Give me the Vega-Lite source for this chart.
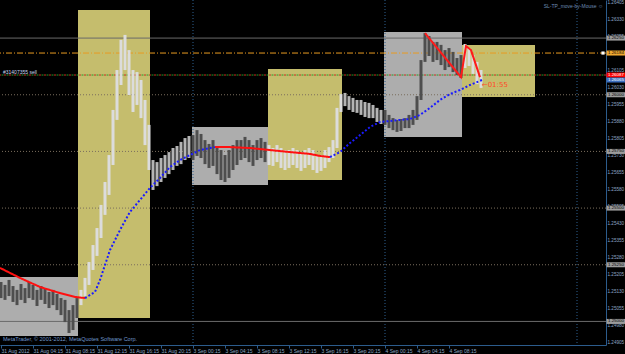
{
"$schema": "https://vega.github.io/schema/vega-lite/v6.json",
"width": 606, "height": 345,
"autosize": {"type": "none"},
"padding": {"left": 0, "top": 0, "right": 19, "bottom": 9},
"background": "#000000",
"config": {"view": {"stroke": null}, "font": "Liberation Sans", "axis": {"labelOverlap": false, "labelBound": false, "labelFlush": false, "labelSeparation": 0}},
"resolve": {"scale": {"color": "independent", "strokeDash": "independent"}},
"datasets": {
"bars": [
{"t":0,"hi":1.25174,"lo":1.25103,"zone":"g"},{"t":0.5,"hi":1.25161,"lo":1.25095,"zone":"g"},{"t":1,"hi":1.25183,"lo":1.25112,"zone":"g"},{"t":1.5,"hi":1.25156,"lo":1.25086,"zone":"g"},{"t":2,"hi":1.25139,"lo":1.25072,"zone":"g"},{"t":2.5,"hi":1.25165,"lo":1.25095,"zone":"g"},{"t":3,"hi":1.25147,"lo":1.25081,"zone":"g"},{"t":3.5,"hi":1.25174,"lo":1.25103,"zone":"g"},{"t":4,"hi":1.25161,"lo":1.25095,"zone":"g"},{"t":4.5,"hi":1.25139,"lo":1.25068,"zone":"g"},{"t":5,"hi":1.25156,"lo":1.25095,"zone":"g"},{"t":5.5,"hi":1.25147,"lo":1.25077,"zone":"g"},{"t":6,"hi":1.25130,"lo":1.25059,"zone":"g"},{"t":6.5,"hi":1.25139,"lo":1.25072,"zone":"g"},{"t":7,"hi":1.25121,"lo":1.25050,"zone":"g"},{"t":7.5,"hi":1.25103,"lo":1.25028,"zone":"g"},{"t":8,"hi":1.25095,"lo":1.24997,"zone":"g"},{"t":8.5,"hi":1.25050,"lo":1.24949,"zone":"g"},{"t":9,"hi":1.25072,"lo":1.24962,"zone":"g"},{"t":9.5,"hi":1.25103,"lo":1.25015,"zone":"g"},
{"t":10,"hi":1.25139,"lo":1.25072,"zone":"y"},{"t":10.5,"hi":1.25192,"lo":1.25112,"zone":"y"},{"t":11,"hi":1.25262,"lo":1.25161,"zone":"y"},{"t":11.5,"hi":1.25337,"lo":1.25227,"zone":"y"},{"t":12,"hi":1.25412,"lo":1.25289,"zone":"y"},{"t":12.5,"hi":1.25514,"lo":1.25368,"zone":"y"},{"t":13,"hi":1.25615,"lo":1.25470,"zone":"y"},{"t":13.5,"hi":1.25734,"lo":1.25558,"zone":"y"},{"t":14,"hi":1.25933,"lo":1.25690,"zone":"y"},{"t":14.5,"hi":1.26109,"lo":1.25889,"zone":"y"},{"t":15,"hi":1.26242,"lo":1.26043,"zone":"y"},{"t":15.5,"hi":1.26264,"lo":1.26109,"zone":"y"},{"t":16,"hi":1.26197,"lo":1.25999,"zone":"y"},{"t":16.5,"hi":1.26109,"lo":1.25924,"zone":"y"},{"t":17,"hi":1.26100,"lo":1.25955,"zone":"y"},{"t":17.5,"hi":1.26065,"lo":1.25897,"zone":"y"},{"t":18,"hi":1.25977,"lo":1.25778,"zone":"y"},{"t":18.5,"hi":1.25867,"lo":1.25668,"zone":"y"},
{"t":19,"hi":1.25712,"lo":1.25580,"zone":"n"},{"t":19.5,"hi":1.25703,"lo":1.25597,"zone":"n"},{"t":20,"hi":1.25721,"lo":1.25615,"zone":"n"},{"t":20.5,"hi":1.25734,"lo":1.25633,"zone":"n"},{"t":21,"hi":1.25747,"lo":1.25650,"zone":"n"},{"t":21.5,"hi":1.25765,"lo":1.25668,"zone":"n"},{"t":22,"hi":1.25774,"lo":1.25686,"zone":"n"},{"t":22.5,"hi":1.25792,"lo":1.25694,"zone":"n"},{"t":23,"hi":1.25809,"lo":1.25712,"zone":"n"},{"t":23.5,"hi":1.25818,"lo":1.25721,"zone":"n"},
{"t":24,"hi":1.25822,"lo":1.25712,"zone":"g"},{"t":24.5,"hi":1.25844,"lo":1.25730,"zone":"g"},{"t":25,"hi":1.25827,"lo":1.25721,"zone":"g"},{"t":25.5,"hi":1.25800,"lo":1.25694,"zone":"g"},{"t":26,"hi":1.25783,"lo":1.25677,"zone":"g"},{"t":26.5,"hi":1.25800,"lo":1.25686,"zone":"g"},{"t":27,"hi":1.25774,"lo":1.25650,"zone":"g"},{"t":27.5,"hi":1.25756,"lo":1.25624,"zone":"g"},{"t":28,"hi":1.25734,"lo":1.25615,"zone":"g"},{"t":28.5,"hi":1.25756,"lo":1.25633,"zone":"g"},{"t":29,"hi":1.25778,"lo":1.25668,"zone":"g"},{"t":29.5,"hi":1.25800,"lo":1.25690,"zone":"g"},{"t":30,"hi":1.25800,"lo":1.25712,"zone":"g"},{"t":30.5,"hi":1.25814,"lo":1.25721,"zone":"g"},{"t":31,"hi":1.25800,"lo":1.25703,"zone":"g"},{"t":31.5,"hi":1.25778,"lo":1.25686,"zone":"g"},{"t":32,"hi":1.25800,"lo":1.25712,"zone":"g"},{"t":32.5,"hi":1.25809,"lo":1.25721,"zone":"g"},{"t":33,"hi":1.25792,"lo":1.25703,"zone":"g"},
{"t":33.5,"hi":1.25778,"lo":1.25690,"zone":"y"},{"t":34,"hi":1.25765,"lo":1.25686,"zone":"y"},{"t":34.5,"hi":1.25778,"lo":1.25703,"zone":"y"},{"t":35,"hi":1.25765,"lo":1.25677,"zone":"y"},{"t":35.5,"hi":1.25756,"lo":1.25668,"zone":"y"},{"t":36,"hi":1.25756,"lo":1.25677,"zone":"y"},{"t":36.5,"hi":1.25765,"lo":1.25690,"zone":"y"},{"t":37,"hi":1.25756,"lo":1.25677,"zone":"y"},{"t":37.5,"hi":1.25747,"lo":1.25664,"zone":"y"},{"t":38,"hi":1.25756,"lo":1.25677,"zone":"y"},{"t":38.5,"hi":1.25765,"lo":1.25690,"zone":"y"},{"t":39,"hi":1.25756,"lo":1.25668,"zone":"y"},{"t":39.5,"hi":1.25734,"lo":1.25655,"zone":"y"},{"t":40,"hi":1.25734,"lo":1.25664,"zone":"y"},{"t":40.5,"hi":1.25756,"lo":1.25677,"zone":"y"},{"t":41,"hi":1.25769,"lo":1.25703,"zone":"y"},{"t":41.5,"hi":1.25800,"lo":1.25721,"zone":"y"},{"t":42,"hi":1.25942,"lo":1.25765,"zone":"y"},{"t":42.5,"hi":1.26003,"lo":1.25924,"zone":"y"},
{"t":43,"hi":1.26008,"lo":1.25950,"zone":"n"},{"t":43.5,"hi":1.25994,"lo":1.25933,"zone":"n"},{"t":44,"hi":1.25986,"lo":1.25924,"zone":"n"},{"t":44.5,"hi":1.25977,"lo":1.25920,"zone":"n"},{"t":45,"hi":1.25977,"lo":1.25911,"zone":"n"},{"t":45.5,"hi":1.25968,"lo":1.25902,"zone":"n"},{"t":46,"hi":1.25964,"lo":1.25897,"zone":"n"},{"t":46.5,"hi":1.25955,"lo":1.25897,"zone":"n"},{"t":47,"hi":1.25942,"lo":1.25880,"zone":"n"},{"t":47.5,"hi":1.25933,"lo":1.25871,"zone":"n"},
{"t":48,"hi":1.25933,"lo":1.25867,"zone":"g"},{"t":48.5,"hi":1.25911,"lo":1.25853,"zone":"g"},{"t":49,"hi":1.25897,"lo":1.25844,"zone":"g"},{"t":49.5,"hi":1.25889,"lo":1.25836,"zone":"g"},{"t":50,"hi":1.25893,"lo":1.25840,"zone":"g"},{"t":50.5,"hi":1.25897,"lo":1.25853,"zone":"g"},{"t":51,"hi":1.25911,"lo":1.25853,"zone":"g"},{"t":51.5,"hi":1.25933,"lo":1.25867,"zone":"g"},{"t":52,"hi":1.25994,"lo":1.25889,"zone":"g"},{"t":52.5,"hi":1.26153,"lo":1.25977,"zone":"g"},{"t":53,"hi":1.26272,"lo":1.26145,"zone":"g"},{"t":53.5,"hi":1.26259,"lo":1.26171,"zone":"g"},{"t":54,"hi":1.26233,"lo":1.26145,"zone":"g"},{"t":54.5,"hi":1.26233,"lo":1.26153,"zone":"g"},{"t":55,"hi":1.26220,"lo":1.26131,"zone":"g"},{"t":55.5,"hi":1.26197,"lo":1.26109,"zone":"g"},{"t":56,"hi":1.26206,"lo":1.26122,"zone":"g"},{"t":56.5,"hi":1.26189,"lo":1.26100,"zone":"g"},{"t":57,"hi":1.26162,"lo":1.26087,"zone":"g"},{"t":57.5,"hi":1.26175,"lo":1.26074,"zone":"g"},
{"t":58,"hi":1.26224,"lo":1.26118,"zone":"y"},{"t":58.5,"hi":1.26206,"lo":1.26127,"zone":"y"},{"t":59,"hi":1.26175,"lo":1.26092,"zone":"y"},{"t":59.5,"hi":1.26145,"lo":1.26047,"zone":"y"},{"t":60,"hi":1.26109,"lo":1.26030,"zone":"y"}
],
"boxes": [
{"t1":-1,"t2":9.625,"top":1.25196,"bottom":1.24936,"kind":"gray"},
{"t1":9.625,"t2":18.625,"top":1.26374,"bottom":1.25015,"kind":"khaki"},
{"t1":23.875,"t2":33.375,"top":1.25858,"bottom":1.25602,"kind":"gray"},
{"t1":33.375,"t2":42.625,"top":1.26114,"bottom":1.25624,"kind":"khaki"},
{"t1":47.875,"t2":57.625,"top":1.26277,"bottom":1.25814,"kind":"gray"},
{"t1":57.625,"t2":66.75,"top":1.26220,"bottom":1.25990,"kind":"khaki"}
],
"ma": [
{"t":-0.125,"p":1.25236,"seg":1,"trend":"down"},{"t":2.375,"p":1.25192,"seg":1,"trend":"down"},{"t":4.875,"p":1.25152,"seg":1,"trend":"down"},{"t":7.375,"p":1.25125,"seg":1,"trend":"down"},{"t":9.25,"p":1.25108,"seg":1,"trend":"down"},{"t":10.5,"p":1.25103,"seg":1,"trend":"down"},
{"t":10.5,"p":1.25103,"seg":2,"trend":"up"},{"t":11.75,"p":1.25130,"seg":2,"trend":"up"},{"t":12.375,"p":1.25183,"seg":2,"trend":"up"},{"t":13,"p":1.25249,"seg":2,"trend":"up"},{"t":13.625,"p":1.25315,"seg":2,"trend":"up"},{"t":14.25,"p":1.25359,"seg":2,"trend":"up"},{"t":14.875,"p":1.25403,"seg":2,"trend":"up"},{"t":16.125,"p":1.25483,"seg":2,"trend":"up"},{"t":17.375,"p":1.25536,"seg":2,"trend":"up"},{"t":18.625,"p":1.25589,"seg":2,"trend":"up"},{"t":19.875,"p":1.25633,"seg":2,"trend":"up"},{"t":21.125,"p":1.25681,"seg":2,"trend":"up"},{"t":22.375,"p":1.25712,"seg":2,"trend":"up"},{"t":23.625,"p":1.25734,"seg":2,"trend":"up"},{"t":24.875,"p":1.25756,"seg":2,"trend":"up"},{"t":26.125,"p":1.25765,"seg":2,"trend":"up"},{"t":26.75,"p":1.25769,"seg":2,"trend":"up"},
{"t":26.75,"p":1.25769,"seg":3,"trend":"down"},{"t":28.625,"p":1.25769,"seg":3,"trend":"down"},{"t":31.125,"p":1.25765,"seg":3,"trend":"down"},{"t":33.625,"p":1.25756,"seg":3,"trend":"down"},{"t":36.125,"p":1.25747,"seg":3,"trend":"down"},{"t":38.625,"p":1.25739,"seg":3,"trend":"down"},{"t":39.875,"p":1.25730,"seg":3,"trend":"down"},{"t":41.125,"p":1.25725,"seg":3,"trend":"down"},
{"t":41.125,"p":1.25725,"seg":4,"trend":"up"},{"t":42.375,"p":1.25747,"seg":4,"trend":"up"},{"t":43.625,"p":1.25787,"seg":4,"trend":"up"},{"t":44.875,"p":1.25822,"seg":4,"trend":"up"},{"t":46.125,"p":1.25858,"seg":4,"trend":"up"},{"t":47.375,"p":1.25880,"seg":4,"trend":"up"},{"t":48.625,"p":1.25884,"seg":4,"trend":"up"},{"t":49.875,"p":1.25889,"seg":4,"trend":"up"},{"t":51.125,"p":1.25893,"seg":4,"trend":"up"},{"t":52.375,"p":1.25911,"seg":4,"trend":"up"},{"t":53.625,"p":1.25942,"seg":4,"trend":"up"},{"t":54.875,"p":1.25977,"seg":4,"trend":"up"},{"t":56.125,"p":1.26003,"seg":4,"trend":"up"},{"t":57.375,"p":1.26021,"seg":4,"trend":"up"},{"t":58.625,"p":1.26043,"seg":4,"trend":"up"},{"t":60.125,"p":1.26065,"seg":4,"trend":"up"}
],
"zig": [
{"t":53,"p":1.26272},{"t":57.5,"p":1.26078},{"t":58.125,"p":1.26215},{"t":58.75,"p":1.26197},{"t":59.875,"p":1.26078}
],
"levels": [
{"p":1.2625,"kind":"solid"},{"p":1.25,"kind":"solid"},
{"p":1.26,"kind":"dot"},{"p":1.2575,"kind":"dot"},{"p":1.255,"kind":"dot"},{"p":1.2525,"kind":"dot"},
{"p":1.26184,"kind":"orange"},{"p":1.26087,"kind":"order"}
],
"tags": [
{"p":1.2625,"kind":"gray"},{"p":1.26184,"kind":"orange"},{"p":1.26,"kind":"gray"},{"p":1.2575,"kind":"gray"},{"p":1.255,"kind":"gray"},{"p":1.2525,"kind":"gray"},{"p":1.25,"kind":"gray"},{"p":1.26087,"kind":"red"},{"p":1.26065,"kind":"blue"}
]
},
"layer": [
{"data": {"name": "boxes"}, "mark": {"type": "rect", "clip": true},
 "encoding": {
  "x": {"field": "t1", "type": "quantitative", "title": null, "scale": {"domain": [-0.125, 75.625], "nice": false, "zero": false}},
  "x2": {"field": "t2"},
  "y": {"field": "top", "type": "quantitative", "title": null, "scale": {"domain": [1.24896, 1.26418], "nice": false, "zero": false}},
  "y2": {"field": "bottom"},
  "color": {"field": "kind", "type": "nominal", "scale": {"domain": ["gray", "khaki"], "range": ["#adadad", "#c5bd6d"]}, "legend": null}}},
{"data": {"values": [{"t": 24}, {"t": 48}, {"t": 72}]}, "mark": {"type": "rule", "color": "#2f6090", "strokeDash": [1, 2], "strokeWidth": 1},
 "encoding": {"x": {"field": "t", "type": "quantitative", "title": null}}},
{"data": {"name": "levels"}, "transform": [{"filter": "datum.kind == 'solid'"}], "mark": {"type": "rule", "color": "#6a6a6a", "strokeWidth": 1},
 "encoding": {"y": {"field": "p", "type": "quantitative", "title": null}}},
{"data": {"name": "levels"}, "transform": [{"filter": "datum.kind == 'dot'"}], "mark": {"type": "rule", "color": "#7a6e5e", "strokeDash": [1, 2], "strokeWidth": 1},
 "encoding": {"y": {"field": "p", "type": "quantitative", "title": null}}},
{"data": {"name": "levels"}, "transform": [{"filter": "datum.kind == 'orange'"}], "mark": {"type": "rule", "color": "#e89a20", "strokeDash": [6, 2, 1, 2], "strokeWidth": 1},
 "encoding": {"y": {"field": "p", "type": "quantitative", "title": null}}},
{"data": {"name": "levels"}, "transform": [{"filter": "datum.kind == 'order'"}], "mark": {"type": "rule", "color": "#c83020", "strokeDash": [2, 3], "strokeWidth": 1},
 "encoding": {"y": {"field": "p", "type": "quantitative", "title": null}}},
{"data": {"name": "levels"}, "transform": [{"filter": "datum.kind == 'order'"}], "mark": {"type": "rule", "color": "#2a9a2a", "strokeDash": [2, 3], "strokeDashOffset": 2.5, "strokeWidth": 1},
 "encoding": {"y": {"field": "p", "type": "quantitative", "title": null}}},
{"data": {"name": "bars"}, "mark": {"type": "rule", "strokeWidth": 3, "clip": true},
 "encoding": {
  "x": {"field": "t", "type": "quantitative", "title": null, "scale": {"domain": [-0.125, 75.625], "nice": false, "zero": false},
   "axis": {"orient": "bottom", "values": [0, 4, 8, 12, 16, 20, 24, 28, 32, 36, 40, 44, 48, 52, 56], "tickCount": 40,
    "labelExpr": "['31 Aug 2012','31 Aug 04:15','31 Aug 08:15','31 Aug 12:15','31 Aug 16:15','31 Aug 20:15','3 Sep 00:15','3 Sep 04:15','3 Sep 08:15','3 Sep 12:15','3 Sep 16:15','3 Sep 20:15','4 Sep 00:15','4 Sep 04:15','4 Sep 08:15'][round(datum.value/4)]",
    "labelAlign": "left", "labelBaseline": "top", "labelFontSize": 5, "labelColor": "#8ea6c4", "labelPadding": 0, "labelDx": 2,
    "tickSize": 3, "tickColor": "#2c5c8c", "domainColor": "#2c5c8c", "grid": false, "title": null,
    "labelOverlap": false, "labelFlush": false, "labelBound": false}},
  "y": {"field": "hi", "type": "quantitative", "title": null, "scale": {"domain": [1.24896, 1.26418], "nice": false, "zero": false},
   "axis": {"orient": "right", "values": [1.24905, 1.2498, 1.25055, 1.2513, 1.25205, 1.2528, 1.25355, 1.2543, 1.25505, 1.2558, 1.25655, 1.2573, 1.25805, 1.2588, 1.25955, 1.2603, 1.26105, 1.2618, 1.26255, 1.2633, 1.26405], "tickCount": 40,
    "format": ".5f", "labelFontSize": 4.6, "labelColor": "#8ea6c4", "labelPadding": 1, "tickSize": 0,
    "domainColor": "#2c5c8c", "grid": false, "title": null, "labelOverlap": false, "labelFlush": false, "labelBound": false}},
  "y2": {"field": "lo"},
  "color": {"field": "zone", "type": "nominal", "scale": {"domain": ["g", "y", "n"], "range": ["#4e4e4e", "#dcdcdc", "#b4b4b4"]}, "legend": null}}},
{"data": {"name": "ma"}, "mark": {"type": "line", "strokeWidth": 2, "clip": true},
 "encoding": {
  "x": {"field": "t", "type": "quantitative", "title": null},
  "y": {"field": "p", "type": "quantitative", "title": null},
  "detail": {"field": "seg", "type": "nominal"},
  "color": {"field": "trend", "type": "nominal", "scale": {"domain": ["down", "up"], "range": ["#ff1010", "#1a1aff"]}, "legend": null},
  "strokeDash": {"field": "trend", "type": "nominal", "scale": {"domain": ["down", "up"], "range": [[1, 0], [2, 2]]}, "legend": null}}},
{"data": {"name": "zig"}, "mark": {"type": "line", "color": "#ff1a1a", "strokeWidth": 2},
 "encoding": {
  "x": {"field": "t", "type": "quantitative", "title": null},
  "y": {"field": "p", "type": "quantitative", "title": null}}},
{"data": {"values": [{"t": 75.25, "p": 1.26184}]}, "mark": {"type": "point", "shape": "square", "filled": true, "color": "#ffffff", "size": 10, "opacity": 1},
 "encoding": {
  "x": {"field": "t", "type": "quantitative", "title": null},
  "y": {"field": "p", "type": "quantitative", "title": null}}},
{"data": {"values": [{"t": 0.25, "p": 1.24912, "label": "MetaTrader, © 2001-2012, MetaQuotes Software Corp."}]},
 "mark": {"type": "text", "align": "left", "baseline": "alphabetic", "fontSize": 5.5, "color": "#6f98cc"},
 "encoding": {
  "x": {"field": "t", "type": "quantitative", "title": null},
  "y": {"field": "p", "type": "quantitative", "title": null},
  "text": {"field": "label"}}},
{"data": {"values": [{"t": 75.25, "p": 1.26392, "label": "SL-TP_move-by-Mouse ☺"}]},
 "mark": {"type": "text", "align": "right", "baseline": "middle", "fontSize": 5, "color": "#6c8cb4"},
 "encoding": {
  "x": {"field": "t", "type": "quantitative", "title": null},
  "y": {"field": "p", "type": "quantitative", "title": null},
  "text": {"field": "label"}}},
{"data": {"values": [{"t": 0.25, "p": 1.26092, "label": "#31407355 sell"}]},
 "mark": {"type": "text", "align": "left", "baseline": "alphabetic", "fontSize": 5, "color": "#c8d8f0"},
 "encoding": {
  "x": {"field": "t", "type": "quantitative", "title": null},
  "y": {"field": "p", "type": "quantitative", "title": null},
  "text": {"field": "label"}}},
{"data": {"values": [{"t": 60.1, "p": 1.26043, "label": "←01:55"}]},
 "mark": {"type": "text", "align": "left", "baseline": "middle", "fontSize": 7, "font": "DejaVu Sans", "color": "#ff4a2a"},
 "encoding": {
  "x": {"field": "t", "type": "quantitative", "title": null},
  "y": {"field": "p", "type": "quantitative", "title": null},
  "text": {"field": "label"}}},
{"data": {"name": "tags"}, "mark": {"type": "tick", "orient": "horizontal", "size": 19, "thickness": 5, "opacity": 1, "clip": false},
 "encoding": {
  "x": {"datum": 76.875, "type": "quantitative", "title": null},
  "y": {"field": "p", "type": "quantitative", "title": null},
  "color": {"field": "kind", "type": "nominal", "scale": {"domain": ["gray", "orange", "red", "blue"], "range": ["#9c9c9c", "#f0a830", "#ff0000", "#3c6ec0"]}, "legend": null}}},
{"data": {"name": "tags"}, "transform": [{"filter": "datum.kind == 'gray' || datum.kind == 'orange'"}],
 "mark": {"type": "text", "align": "left", "baseline": "middle", "fontSize": 4.4, "color": "#000000"},
 "encoding": {
  "x": {"datum": 75.875, "type": "quantitative", "title": null},
  "y": {"field": "p", "type": "quantitative", "title": null},
  "text": {"field": "p", "type": "quantitative", "format": ".5f"}}},
{"data": {"name": "tags"}, "transform": [{"filter": "datum.kind == 'red' || datum.kind == 'blue'"}],
 "mark": {"type": "text", "align": "left", "baseline": "middle", "fontSize": 4.4, "color": "#ffffff"},
 "encoding": {
  "x": {"datum": 75.875, "type": "quantitative", "title": null},
  "y": {"field": "p", "type": "quantitative", "title": null},
  "text": {"field": "p", "type": "quantitative", "format": ".5f"}}}
]
}
